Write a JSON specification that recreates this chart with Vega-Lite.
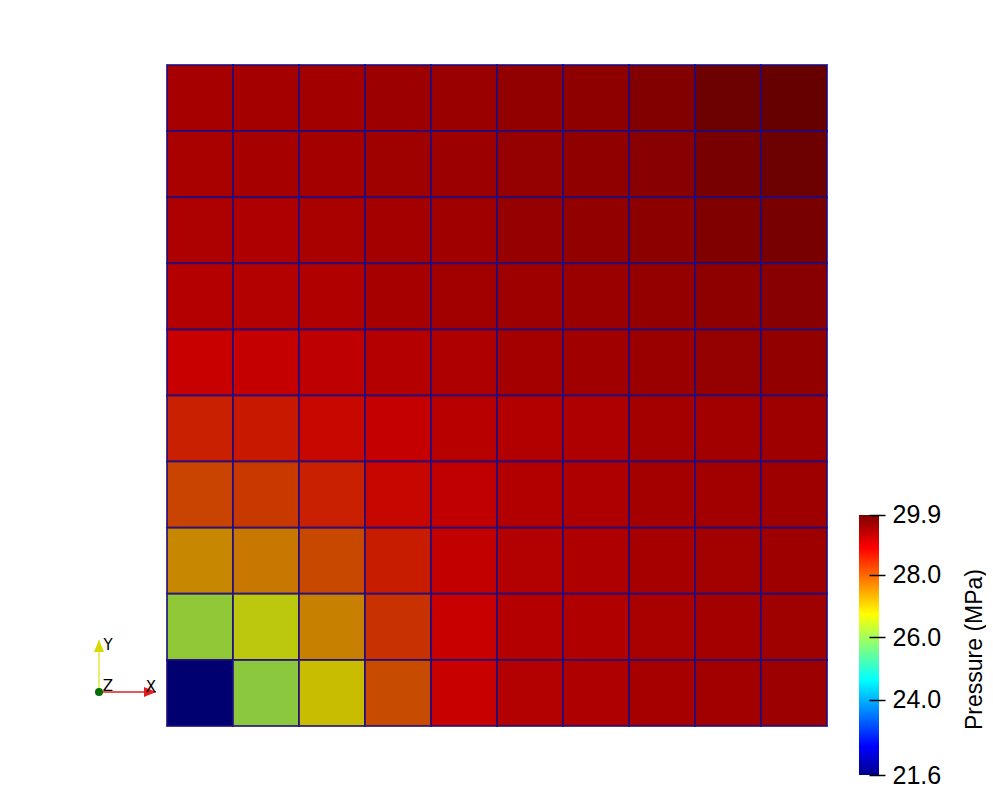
{
  "$schema": "https://vega.github.io/schema/vega-lite/v6.json",
  "background": "white",
  "padding": {"left": 93, "top": 64, "right": 0, "bottom": 0},
  "bounds": "flush",
  "spacing": 32,
  "config": {"view": {"stroke": null}},
  "datasets": {
    "cells": [
      {"x":1,"y":10,"p":29.19},{"x":2,"y":10,"p":29.22},{"x":3,"y":10,"p":29.25},{"x":4,"y":10,"p":29.30},{"x":5,"y":10,"p":29.33},{"x":6,"y":10,"p":29.41},{"x":7,"y":10,"p":29.46},{"x":8,"y":10,"p":29.58},{"x":9,"y":10,"p":29.80},{"x":10,"y":10,"p":29.88},
      {"x":1,"y":9,"p":29.17},{"x":2,"y":9,"p":29.19},{"x":3,"y":9,"p":29.22},{"x":4,"y":9,"p":29.28},{"x":5,"y":9,"p":29.31},{"x":6,"y":9,"p":29.38},{"x":7,"y":9,"p":29.43},{"x":8,"y":9,"p":29.52},{"x":9,"y":9,"p":29.69},{"x":10,"y":9,"p":29.80},
      {"x":1,"y":8,"p":29.13},{"x":2,"y":8,"p":29.12},{"x":3,"y":8,"p":29.17},{"x":4,"y":8,"p":29.23},{"x":5,"y":8,"p":29.27},{"x":6,"y":8,"p":29.36},{"x":7,"y":8,"p":29.40},{"x":8,"y":8,"p":29.48},{"x":9,"y":8,"p":29.61},{"x":10,"y":8,"p":29.69},
      {"x":1,"y":7,"p":29.05},{"x":2,"y":7,"p":29.07},{"x":3,"y":7,"p":29.10},{"x":4,"y":7,"p":29.19},{"x":5,"y":7,"p":29.25},{"x":6,"y":7,"p":29.29},{"x":7,"y":7,"p":29.33},{"x":8,"y":7,"p":29.39},{"x":9,"y":7,"p":29.46},{"x":10,"y":7,"p":29.52},
      {"x":1,"y":6,"p":28.85},{"x":2,"y":6,"p":28.89},{"x":3,"y":6,"p":28.95},{"x":4,"y":6,"p":29.05},{"x":5,"y":6,"p":29.12},{"x":6,"y":6,"p":29.22},{"x":7,"y":6,"p":29.27},{"x":8,"y":6,"p":29.33},{"x":9,"y":6,"p":29.38},{"x":10,"y":6,"p":29.42},
      {"x":1,"y":5,"p":28.51},{"x":2,"y":5,"p":28.59},{"x":3,"y":5,"p":28.76},{"x":4,"y":5,"p":28.88},{"x":5,"y":5,"p":29.00},{"x":6,"y":5,"p":29.08},{"x":7,"y":5,"p":29.12},{"x":8,"y":5,"p":29.21},{"x":9,"y":5,"p":29.25},{"x":10,"y":5,"p":29.29},
      {"x":1,"y":4,"p":28.13},{"x":2,"y":4,"p":28.25},{"x":3,"y":4,"p":28.51},{"x":4,"y":4,"p":28.78},{"x":5,"y":4,"p":28.93},{"x":6,"y":4,"p":29.08},{"x":7,"y":4,"p":29.12},{"x":8,"y":4,"p":29.21},{"x":9,"y":4,"p":29.25},{"x":10,"y":4,"p":29.29},
      {"x":1,"y":3,"p":27.42},{"x":2,"y":3,"p":27.58},{"x":3,"y":3,"p":28.09},{"x":4,"y":3,"p":28.55},{"x":5,"y":3,"p":28.91},{"x":6,"y":3,"p":29.07},{"x":7,"y":3,"p":29.11},{"x":8,"y":3,"p":29.19},{"x":9,"y":3,"p":29.24},{"x":10,"y":3,"p":29.29},
      {"x":1,"y":2,"p":26.15},{"x":2,"y":2,"p":26.60},{"x":3,"y":2,"p":27.50},{"x":4,"y":2,"p":28.32},{"x":5,"y":2,"p":28.85},{"x":6,"y":2,"p":29.05},{"x":7,"y":2,"p":29.09},{"x":8,"y":2,"p":29.17},{"x":9,"y":2,"p":29.23},{"x":10,"y":2,"p":29.28},
      {"x":1,"y":1,"p":21.60},{"x":2,"y":1,"p":26.10},{"x":3,"y":1,"p":26.85},{"x":4,"y":1,"p":28.05},{"x":5,"y":1,"p":28.84},{"x":6,"y":1,"p":29.07},{"x":7,"y":1,"p":29.12},{"x":8,"y":1,"p":29.20},{"x":9,"y":1,"p":29.25},{"x":10,"y":1,"p":29.31}
    ],
    "glyph": [
      {"axis":"X","x0":0,"y0":0,"x1":1,"y1":0},
      {"axis":"Y","x0":0,"y0":0,"x1":0,"y1":1},
      {"axis":"Z","x0":0,"y0":0,"x1":0,"y1":0}
    ],
    "bar": [{"lo":21.6,"hi":29.9}]
  },
  "hconcat": [
    {
      "width": 36,
      "height": 661,
      "data": {"name": "glyph"},
      "layer": [
        {
          "transform": [{"filter": "datum.axis != 'Z'"}],
          "mark": {"type": "rule", "strokeWidth": 1.5},
          "encoding": {
            "x": {"field": "x0", "type": "quantitative", "axis": null, "scale": {"domain": [0, 0.6316], "nice": false, "zero": false}},
            "y": {"field": "y0", "type": "quantitative", "axis": null, "scale": {"domain": [-0.6538, 12.058], "nice": false, "zero": false}},
            "x2": {"field": "x1"},
            "y2": {"field": "y1"},
            "color": {"field": "axis", "type": "nominal", "legend": null, "scale": {"domain": ["X", "Y", "Z"], "range": ["#e01e1e", "#e6e640", "#006e00"]}}
          }
        },
        {
          "transform": [{"filter": "datum.axis == 'X'"}],
          "mark": {"type": "point", "filled": true, "opacity": 1, "size": 576, "shape": "M-1,-0.42L0,0L-1,0.42Z", "color": "#e01e1e"},
          "encoding": {
            "x": {"field": "x1", "type": "quantitative", "axis": null, "scale": {"domain": [0, 0.6316], "nice": false, "zero": false}},
            "y": {"field": "y1", "type": "quantitative", "axis": null, "scale": {"domain": [-0.6538, 12.058], "nice": false, "zero": false}}
          }
        },
        {
          "transform": [{"filter": "datum.axis == 'Y'"}],
          "mark": {"type": "point", "filled": true, "opacity": 1, "size": 576, "shape": "M-0.42,1L0,0L0.42,1Z", "color": "#d8d800"},
          "encoding": {
            "x": {"field": "x1", "type": "quantitative", "axis": null, "scale": {"domain": [0, 0.6316], "nice": false, "zero": false}},
            "y": {"field": "y1", "type": "quantitative", "axis": null, "scale": {"domain": [-0.6538, 12.058], "nice": false, "zero": false}}
          }
        },
        {
          "transform": [{"filter": "datum.axis == 'Z'"}],
          "mark": {"type": "point", "filled": true, "opacity": 1, "size": 64, "shape": "circle", "color": "#006e00"},
          "encoding": {
            "x": {"field": "x1", "type": "quantitative", "axis": null, "scale": {"domain": [0, 0.6316], "nice": false, "zero": false}},
            "y": {"field": "y1", "type": "quantitative", "axis": null, "scale": {"domain": [-0.6538, 12.058], "nice": false, "zero": false}}
          }
        },
        {
          "transform": [{"filter": "datum.axis == 'X'"}],
          "mark": {"type": "text", "font": "DejaVu Sans", "fontSize": 15, "color": "black", "dx": -5, "dy": -5, "align": "center", "baseline": "middle"},
          "encoding": {
            "x": {"field": "x1", "type": "quantitative", "axis": null, "scale": {"domain": [0, 0.6316], "nice": false, "zero": false}},
            "y": {"field": "y1", "type": "quantitative", "axis": null, "scale": {"domain": [-0.6538, 12.058], "nice": false, "zero": false}},
            "text": {"field": "axis"}
          }
        },
        {
          "transform": [{"filter": "datum.axis == 'Y'"}],
          "mark": {"type": "text", "font": "DejaVu Sans", "fontSize": 15, "color": "black", "dx": 9, "dy": 5, "align": "center", "baseline": "middle"},
          "encoding": {
            "x": {"field": "x1", "type": "quantitative", "axis": null, "scale": {"domain": [0, 0.6316], "nice": false, "zero": false}},
            "y": {"field": "y1", "type": "quantitative", "axis": null, "scale": {"domain": [-0.6538, 12.058], "nice": false, "zero": false}},
            "text": {"field": "axis"}
          }
        },
        {
          "transform": [{"filter": "datum.axis == 'Z'"}],
          "mark": {"type": "text", "font": "DejaVu Sans", "fontSize": 15, "color": "black", "dx": 9, "dy": -6, "align": "center", "baseline": "middle"},
          "encoding": {
            "x": {"field": "x1", "type": "quantitative", "axis": null, "scale": {"domain": [0, 0.6316], "nice": false, "zero": false}},
            "y": {"field": "y1", "type": "quantitative", "axis": null, "scale": {"domain": [-0.6538, 12.058], "nice": false, "zero": false}},
            "text": {"field": "axis"}
          }
        }
      ]
    },
    {
      "width": 660,
      "height": 661,
      "data": {"name": "cells"},
      "mark": {"type": "rect", "stroke": "#1e0a80", "strokeWidth": 2, "strokeOpacity": 0.8},
      "encoding": {
        "x": {"field": "x", "type": "ordinal", "axis": null, "scale": {"paddingInner": 0, "paddingOuter": 0}},
        "y": {"field": "y", "type": "ordinal", "axis": null, "sort": "descending", "scale": {"paddingInner": 0, "paddingOuter": 0}},
        "fill": {
          "field": "p", "type": "quantitative", "legend": null,
          "scale": {
            "domain": [21.6, 22.522, 24.630, 25.684, 26.738, 28.846, 29.9],
            "range": ["#000071", "#0000c8", "#00c8c8", "#64c864", "#c8c800", "#c80000", "#640000"],
            "interpolate": "rgb"
          }
        }
      }
    },
    {
      "width": 20,
      "height": 710,
      "data": {"name": "bar"},
      "mark": {
        "type": "rect",
        "fill": {
          "gradient": "linear", "x1": 0, "y1": 1, "x2": 0, "y2": 0,
          "stops": [
            {"offset": 0, "color": "#00008f"},
            {"offset": 0.111111, "color": "#0000ff"},
            {"offset": 0.365079, "color": "#00ffff"},
            {"offset": 0.492063, "color": "#80ff80"},
            {"offset": 0.619048, "color": "#ffff00"},
            {"offset": 0.873016, "color": "#ff0000"},
            {"offset": 1, "color": "#800000"}
          ]
        }
      },
      "encoding": {
        "y": {
          "field": "lo", "type": "quantitative",
          "scale": {"domain": [21.6, 44.265], "nice": false, "zero": false},
          "axis": {
            "orient": "right", "values": [21.6, 24, 26, 28, 29.9], "format": ".1f",
            "domain": false, "grid": false, "zindex": 1,
            "offset": -10, "tickSize": 16, "tickWidth": 1.5, "tickColor": "black",
            "labelFont": "Liberation Sans", "labelFontSize": 25, "labelColor": "black", "labelPadding": 7,
            "title": "Pressure (MPa)", "titleFont": "Liberation Sans", "titleFontSize": 23, "titleFontWeight": "normal", "titleColor": "black",
            "titleAngle": 270, "titleX": 105, "titleY": 584, "titleAlign": "center", "titleBaseline": "middle"
          }
        },
        "y2": {"field": "hi"}
      }
    }
  ]
}
